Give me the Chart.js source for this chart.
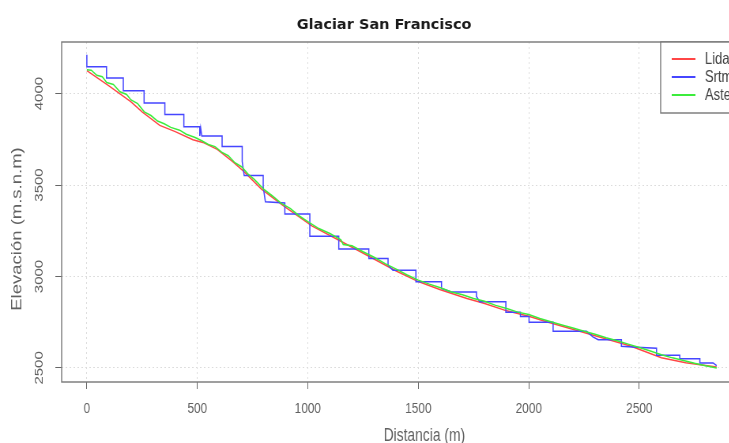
<!DOCTYPE html>
<html>
<head>
<meta charset="utf-8">
<script src="https://cdn.jsdelivr.net/npm/chart.js@4/dist/chart.umd.min.js"></script>
<style>
  html, body { margin: 0; padding: 0; overflow: hidden; background: #fff; }
  #wrap { width: 729px; height: 443px; overflow: hidden; }
  canvas { display: block; }
</style>
</head>
<body>
<div id="wrap"><canvas id="perfil" width="944" height="443"></canvas></div>
<script>
// distance along the flow line (m) and elevation (m.s.n.m)
const lidarDist = [0, 100, 200, 250, 330, 400, 480, 525, 590, 660, 710, 790, 890, 1020, 1145, 1270, 1400, 1500, 1600, 1720, 1800, 1900, 2000, 2080, 2230, 2460, 2600, 2710, 2850];
const lidarElev = [4125, 4042, 3955, 3900, 3826, 3792, 3748, 3733, 3695, 3628, 3575, 3478, 3386, 3275, 3195, 3115, 3030, 2972, 2927, 2880, 2852, 2812, 2782, 2752, 2700, 2620, 2556, 2528, 2505];

const srtmDist = [0, 0, 89, 89, 165, 165, 259, 259, 353, 353, 439, 439, 511, 511, 515, 520, 612, 612, 703, 703, 712, 798, 798, 808, 896, 896, 1009, 1009, 1140, 1140, 1276, 1276, 1363, 1363, 1385, 1489, 1489, 1605, 1605, 1650, 1763, 1763, 1778, 1896, 1896, 1962, 1962, 2001, 2001, 2110, 2110, 2261, 2290, 2314, 2419, 2419, 2487, 2578, 2578, 2683, 2683, 2774, 2774, 2834, 2850];
const srtmElev = [4212, 4146, 4146, 4085, 4085, 4016, 4016, 3949, 3949, 3886, 3886, 3819, 3819, 3768, 3812, 3768, 3768, 3710, 3710, 3629, 3552, 3552, 3490, 3408, 3402, 3342, 3342, 3220, 3220, 3150, 3150, 3098, 3098, 3062, 3034, 3034, 2971, 2971, 2935, 2915, 2915, 2890, 2862, 2862, 2804, 2804, 2781, 2781, 2750, 2750, 2700, 2700, 2670, 2654, 2654, 2618, 2613, 2608, 2569, 2569, 2550, 2550, 2527, 2527, 2512];

const asterDist = [0, 20, 45, 70, 90, 120, 150, 180, 200, 230, 260, 290, 320, 350, 380, 420, 450, 490, 520, 550, 580, 610, 640, 670, 700, 730, 760, 800, 840, 880, 920, 960, 1000, 1050, 1100, 1150, 1160, 1200, 1250, 1300, 1350, 1400, 1450, 1500, 1550, 1600, 1650, 1700, 1750, 1800, 1850, 1900, 1950, 2000, 2050, 2100, 2150, 2200, 2250, 2300, 2350, 2400, 2450, 2500, 2550, 2600, 2650, 2700, 2750, 2800, 2850];
const asterElev = [4130, 4128, 4100, 4092, 4060, 4050, 4010, 3995, 3965, 3945, 3900, 3880, 3850, 3835, 3815, 3800, 3778, 3760, 3742, 3722, 3710, 3680, 3660, 3622, 3600, 3560, 3528, 3478, 3440, 3400, 3372, 3332, 3300, 3262, 3235, 3200, 3175, 3168, 3135, 3105, 3070, 3040, 3008, 2980, 2958, 2938, 2915, 2900, 2880, 2865, 2842, 2825, 2805, 2792, 2770, 2752, 2735, 2718, 2700, 2684, 2665, 2648, 2630, 2612, 2592, 2572, 2555, 2540, 2525, 2512, 2500];

const xTicks = [0, 500, 1000, 1500, 2000, 2500];
const yTicks = [2500, 3000, 3500, 4000];
const seriesNames = ['Lidar', 'Srtm', 'Aster'];
const seriesColors = ['#ff4646', '#4646ff', '#3cec3c'];

// the reference picture is squeezed sideways, so draw wide and shrink with css
const squeeze = 0.79;
const canvas = document.getElementById('perfil');
canvas.style.width = (canvas.width * squeeze) + 'px';
canvas.style.height = canvas.height + 'px';

const tickFont = { family: '"Liberation Sans", Arial, sans-serif', size: 15 };

function toPoints(xs, ys) {
  return xs.map((x, i) => ({ x: x, y: ys[i] }));
}

function makeSet(i, xs, ys, order) {
  return {
    label: seriesNames[i],
    data: toPoints(xs, ys),
    showLine: true,
    borderColor: seriesColors[i],
    backgroundColor: seriesColors[i],
    borderWidth: 1.5,
    pointRadius: 0,
    tension: 0,
    order: order
  };
}

const framePlugin = {
  id: 'frame',
  afterDraw(chart) {
    const ctx = chart.ctx;
    const a = chart.chartArea;
    ctx.save();

    // box round the plot
    ctx.strokeStyle = '#777';
    ctx.lineWidth = 1.4;
    ctx.strokeRect(a.left, a.top, a.right - a.left, a.bottom - a.top);

    // legend in the top right corner
    const lx = 836, ly = a.top, lw = a.right - 836, lh = 71;
    ctx.fillStyle = '#fff';
    ctx.fillRect(lx, ly, lw, lh);
    ctx.strokeRect(lx, ly, lw, lh);
    ctx.font = '16.5px "Liberation Sans", Arial, sans-serif';
    ctx.textBaseline = 'middle';
    ctx.textAlign = 'left';
    seriesNames.forEach((name, i) => {
      const y = ly + 17 + i * 18;
      ctx.strokeStyle = seriesColors[i];
      ctx.lineWidth = 2;
      ctx.beginPath();
      ctx.moveTo(850, y);
      ctx.lineTo(880, y);
      ctx.stroke();
      ctx.fillStyle = '#444';
      ctx.fillText(name, 892, y);
    });

    // axis titles
    ctx.fillStyle = '#606060';
    ctx.textAlign = 'center';
    ctx.font = '17.5px "Liberation Sans", Arial, sans-serif';
    ctx.fillText('Distancia (m)', 537, 436);
    ctx.save();
    ctx.translate(21.5, 229);
    ctx.rotate(-Math.PI / 2);
    ctx.font = '18.5px "Liberation Sans", Arial, sans-serif';
    ctx.fillText('Elevación (m.s.n.m)', 0, 0);
    ctx.restore();

    // main title, drawn unsqueezed
    ctx.save();
    ctx.scale(1 / squeeze, 1);
    ctx.fillStyle = '#1a1a1a';
    ctx.font = 'bold 14.5px "DejaVu Sans", sans-serif';
    ctx.fillText('Glaciar San Francisco', 384, 25.5);
    ctx.restore();

    ctx.restore();
  }
};

const chart = new Chart(canvas, {
  type: 'scatter',
  data: {
    datasets: [
      makeSet(0, lidarDist, lidarElev, 3),
      makeSet(1, srtmDist, srtmElev, 2),
      makeSet(2, asterDist, asterElev, 1)
    ]
  },
  options: {
    responsive: false,
    animation: false,
    devicePixelRatio: 1,
    layout: { padding: { top: 42, right: 5, left: 0, bottom: 0 } },
    plugins: {
      legend: { display: false },
      title: { display: false },
      tooltip: { enabled: false }
    },
    scales: {
      x: {
        type: 'linear',
        min: -114,
        max: 2965,
        afterBuildTicks: s => { s.ticks = xTicks.map(v => ({ value: v })); },
        afterFit: s => { s.height = 61; },
        grid: { color: '#dcdcdc', tickColor: '#666', tickLength: 7, tickBorderDash: [] },
        border: { display: false, dash: [2, 3] },
        ticks: { color: '#606060', font: tickFont, padding: 11, maxRotation: 0, autoSkip: false, callback: v => String(v) }
      },
      y: {
        type: 'linear',
        min: 2423,
        max: 4282,
        afterBuildTicks: s => { s.ticks = yTicks.map(v => ({ value: v })); },
        afterFit: s => { s.width = 78; },
        grid: { color: '#dcdcdc', tickColor: '#666', tickLength: 8, tickBorderDash: [] },
        border: { display: false, dash: [2, 3] },
        ticks: { color: '#606060', font: tickFont, padding: 3, minRotation: 90, maxRotation: 90, crossAlign: 'center', autoSkip: false, callback: v => String(v) }
      }
    }
  },
  plugins: [framePlugin]
});
</script>
</body>
</html>
